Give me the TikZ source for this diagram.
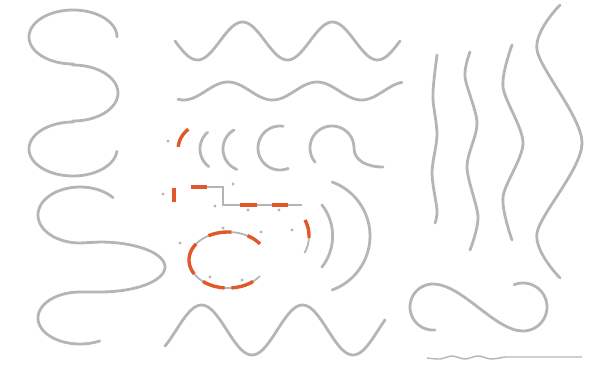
\documentclass[tikz,border=0pt]{standalone}
\usepackage{xcolor}
\usepackage{tikz}
\usetikzlibrary{calc}
\definecolor{curveGray}{HTML}{B5B5B5}
\definecolor{editRed}{HTML}{E0582A}

\begin{document}
\begin{tikzpicture}[
  x=1pt,y=-1pt,
  curve/.style={draw=curveGray,line width=2.8pt,line cap=round},
  guide/.style={draw=curveGray,line width=1.8pt},
  accent/.style={draw=editRed,line width=3.4pt},
  handle/.style={circle,fill=curveGray,inner sep=0pt,minimum size=3.2pt}
]
\useasboundingbox (0,0) rectangle (596,369);

% left column: two three-lobed strokes
\draw[curve] plot[domain=0:-270,samples=60] ({73+44*cos(\x)},{37+27*sin(\x)})
  -- plot[domain=-90:90,samples=50] ({73+45*cos(\x)},{93+28*sin(\x)})
  -- plot[domain=-90:-355,samples=60] ({73+44*cos(\x)},{149+27*sin(\x)});
\draw[curve] plot[domain=-38:-270,samples=60] ({80+42*cos(\x)},{215+28*sin(\x)})
  -- plot[domain=-90:90,samples=50] ({100+65*cos(\x)},{267+25*sin(\x)})
  -- plot[domain=-90:-298,samples=60] ({80+42*cos(\x)},{318+26*sin(\x)});

% top waves
\draw[curve] plot[domain=175:400,samples=90] (\x,{41+19*sin(4*(\x-175))});
\draw[curve] plot[domain=178:402,samples=90] (\x,{91+9*cos(4.045*(\x-183.5))});

% row of arcs
\draw[accent] plot[domain=187:233,samples=20] ({204+26*cos(\x)},{150+26*sin(\x)});
\draw[curve] plot[domain=127:229,samples=30] ({222+22*cos(\x)},{149+22*sin(\x)});
\draw[curve] plot[domain=112:240,samples=30] ({245+22*cos(\x)},{149+22*sin(\x)});
\draw[curve] plot[domain=68:278,samples=40] ({280+22*cos(\x)},{148+22*sin(\x)});
\draw[curve] plot[domain=140:360,samples=50] ({332+22*cos(\x)},{148+22*sin(\x)})
  .. controls (354,160) and (366,167) .. (383,167);

% polyline with highlighted pieces
\draw[guide] (191,187) -- (223,187) -- (223,205) -- (302,205);
\draw[accent] (174,188) -- (174,202);
\draw[accent] (191,187) -- (207,187);
\draw[accent] (240,205) -- (257,205);
\draw[accent] (272,205) -- (288,205);

% open ellipse
\draw[guide] plot[domain=35:325,samples=60] ({228+39*cos(\x)},{260+28*sin(\x)});
\foreach \a/\b in {300/325,240/275,150/215,95/130,50/85}
  \draw[accent] plot[domain=\a:\b,samples=15] ({228+39*cos(\x)},{260+28*sin(\x)});

% right brackets
\draw[guide] plot[domain=-28:30,samples=20] ({275+34*cos(\x)},{236+34*sin(\x)});
\draw[accent] plot[domain=-28:3,samples=12] ({275+34*cos(\x)},{236+34*sin(\x)});
\draw[curve] plot[domain=-38:38,samples=25] ({282+50.6*cos(\x)},{236+50.6*sin(\x)});
\draw[curve] plot[domain=-70:70,samples=40] ({312.6+57.4*cos(\x)},{236+57.4*sin(\x)});

% handles
\node[handle] (h1) at (168,141) {};
\node[handle] (h2) at (163,194) {};
\node[handle] (h3) at (233,184) {};
\node[handle] (h4) at (215,206) {};
\node[handle] (h5) at (248,210) {};
\node[handle] (h6) at (279,210) {};
\node[handle] (h7) at (180,243) {};
\node[handle] (h8) at (223,228) {};
\node[handle] (h9) at (261,232) {};
\node[handle] (h10) at (210,277) {};
\node[handle] (h11) at (242,280) {};
\node[handle] (h12) at (292,230) {};

% bottom wave
\draw[curve] plot[domain=165:385,samples=90] (\x,{330+25*cos(3.564*(\x-252))});

% vertical wavy strokes
\draw[curve] plot[smooth] coordinates {(437,55) (434,80) (433,100) (437,135) (432,173) (437,210) (435,223)};
\draw[curve] plot[smooth] coordinates {(470,52) (465,77) (477,123) (467,167) (478,217) (470,250)};
\draw[curve] plot[smooth] coordinates {(512,45) (503,87) (523,143) (503,197) (512,240)};
\draw[curve] plot[smooth] coordinates {(560,5) (537,50) (582,143) (537,233) (560,278)};

% bottom right loop
\draw[curve] plot[domain=85:270,samples=40] ({433+23*cos(\x)},{307+23*sin(\x)})
  .. controls (462,284) and (495,331) .. (523,331)
  -- plot[domain=90:-112,samples=40] ({523+24*cos(\x)},{307+24*sin(\x)});

% scale bar
\draw[guide,line width=1.4pt] plot[smooth] coordinates {(427,358) (440,359) (452,356) (465,359) (478,356) (491,359) (505,357)} -- (582,357);
\end{tikzpicture}
\end{document}
